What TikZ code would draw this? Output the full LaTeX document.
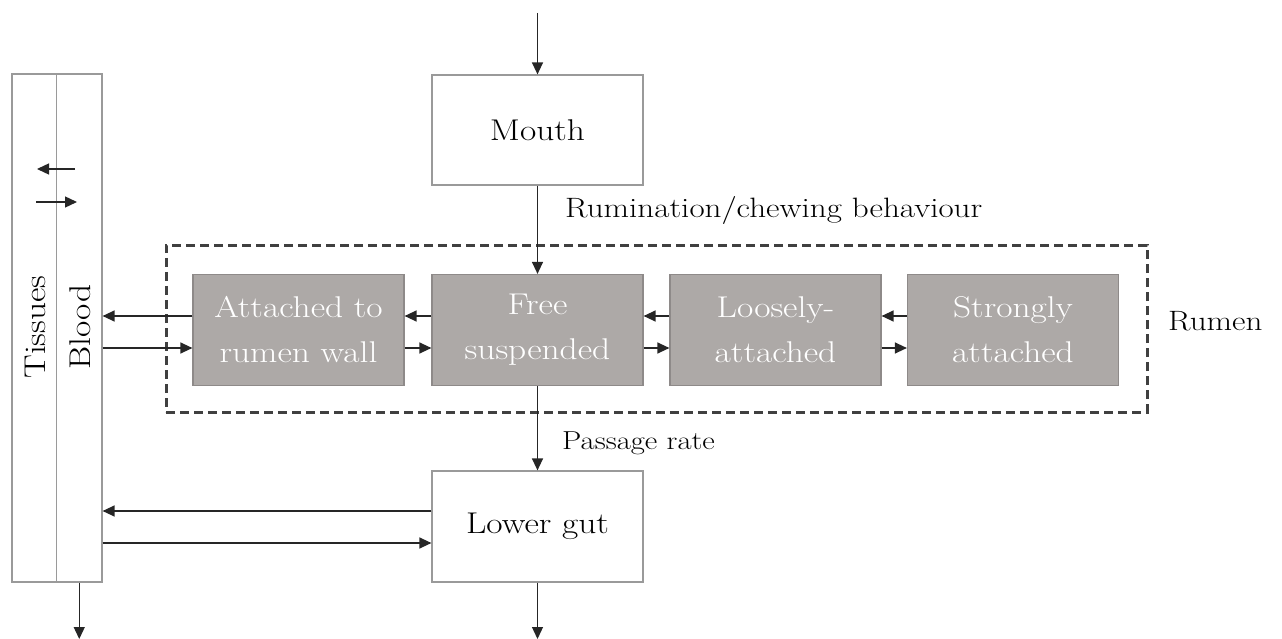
\documentclass[tikz,border=0pt]{standalone}
\usepackage{fontspec}
\setmainfont{Latin Modern Roman}[FakeStretch=1.18]
\usetikzlibrary{arrows.meta}
\definecolor{boxgray}{HTML}{ADA9A7}
\definecolor{boxedge}{HTML}{8E8A89}
\definecolor{lightedge}{HTML}{9A9A9A}
\definecolor{dashcol}{HTML}{404040}
\begin{document}
\begin{tikzpicture}[x=1pt,y=-1pt,
  lbl/.style={font=\fontsize{28}{34}\selectfont, inner sep=0pt},
  wbox/.style={draw=lightedge, line width=1.2pt, fill=white, minimum width=211pt, minimum height=110pt, inner sep=0pt, font=\fontsize{30}{36}\selectfont},
  gbox/.style={draw=boxedge, line width=1.2pt, fill=boxgray, text=white, minimum width=211pt, minimum height=111pt, inner sep=0pt, align=center, font=\fontsize{30}{45}\selectfont},
  col/.style={draw=lightedge, line width=1.2pt, minimum height=508pt, inner sep=0pt},
  arr/.style={draw=black!85, line width=1.3pt, -{Triangle[length=12pt,width=11pt]}},
  rumenbox/.style={draw=dashcol, line width=3pt, dash pattern=on 9pt off 5pt, minimum width=981pt, minimum height=167pt, inner sep=0pt}
]
\useasboundingbox (0,0) rectangle (1282,639);

% dashed rumen compartment
\node[rumenbox] (rumen) at (656.5,328.5) {};

% left columns
\node[col, minimum width=44.5pt] (tissues) at (34.25,328) {};
\node[col, minimum width=45.5pt] (blood) at (79.25,328) {};
\node[lbl, rotate=90, font=\fontsize{30}{36}\selectfont] (tisslbl) at (35,327) {Tissues};
\node[lbl, rotate=90, font=\fontsize{30}{36}\selectfont] (bloodlbl) at (80,327) {Blood};

% boxes
\node[wbox] (mouth) at (537.5,130) {Mouth};
\node[wbox, minimum height=111pt] (lower) at (537.5,526.5) {Lower gut};
\node[gbox] (attached) at (298.5,330) {Attached to\\rumen wall};
\node[gbox] (free) at (537.5,330) {Free\\suspended};
\node[gbox] (loosely) at (775.5,330) {Loosely-\\attached};
\node[gbox] (strongly) at (1013,330) {Strongly\\attached};

% labels
\node[lbl, anchor=base west] (rumlbl) at (565,218) {Rumination/chewing behaviour};
\node[lbl, anchor=base west, font=\fontsize{26}{30}\selectfont] (passlbl) at (562,449) {Passage rate};
\node[lbl, anchor=base west] (rumenlbl) at (1168,330) {Rumen};

% free coordinates
\coordinate (topin) at (537.5,13);
\coordinate (outgut) at (537.5,639);
\coordinate (outblood) at (79.25,639);
\coordinate (s1a) at (75,169);
\coordinate (s1b) at (37,169);
\coordinate (s2a) at (36,202);
\coordinate (s2b) at (77,202);

% vertical flow
\draw[arr] (topin) -- (mouth.north);
\draw[arr] (mouth.south) -- (free.north);
\draw[arr] (free.south) -- (lower.north);
\draw[arr] (lower.south) -- (outgut);
\draw[arr] (blood.south) -- (outblood);

% tissue/blood exchange
\draw[arr] (s1a) -- (s1b);
\draw[arr] (s2a) -- (s2b);

% rumen exchanges
\draw[arr] (attached.west |- 0,316) -- (blood.east |- 0,316);
\draw[arr] (blood.east |- 0,348) -- (attached.west |- 0,348);
\draw[arr] (free.west |- 0,316) -- (attached.east |- 0,316);
\draw[arr] (attached.east |- 0,348) -- (free.west |- 0,348);
\draw[arr] (loosely.west |- 0,316) -- (free.east |- 0,316);
\draw[arr] (free.east |- 0,348) -- (loosely.west |- 0,348);
\draw[arr] (strongly.west |- 0,316) -- (loosely.east |- 0,316);
\draw[arr] (loosely.east |- 0,348) -- (strongly.west |- 0,348);

% lower gut exchanges
\draw[arr] (lower.west |- 0,511) -- (blood.east |- 0,511);
\draw[arr] (blood.east |- 0,543) -- (lower.west |- 0,543);
\end{tikzpicture}
\end{document}
